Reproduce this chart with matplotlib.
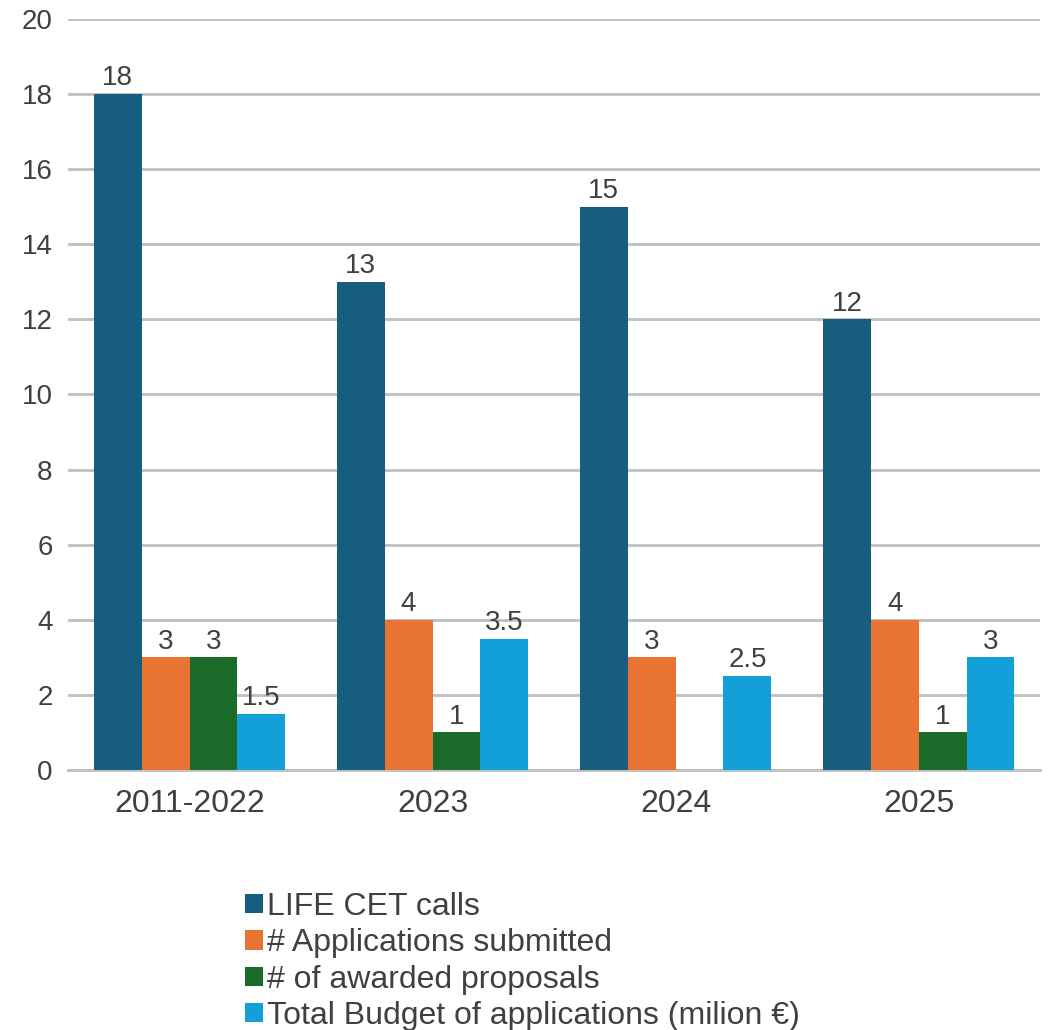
import numpy as np
import matplotlib.pyplot as plt
from matplotlib.patches import Patch

# chart data
groups = ["2011-2022", "2023", "2024", "2025"]
series_names = ["LIFE CET calls", "# Applications submitted",
                "# of awarded proposals", "Total Budget of applications (milion €)"]
cet_calls = [18, 13, 15, 12]
applications = [3, 4, 3, 4]
awarded = [3, 1, 0, 1]
budget = [1.5, 3.5, 2.5, 3]
colors = ["#175d80", "#e87333", "#1c6a2a", "#139fd8"]

plt.rcParams['font.family'] = ['Liberation Sans', 'DejaVu Sans']
text_col = "#404040"

fig = plt.figure(figsize=(10.56, 10.30), dpi=100)
ax = fig.add_axes([0.0644, 0.2524, 0.9206, 0.7292])

x = np.arange(len(groups))
w = 0.197
all_series = [cet_calls, applications, awarded, budget]
for i, vals in enumerate(all_series):
    pos = x + (i - 1.5) * w
    bars = ax.bar(pos, vals, width=w, color=colors[i], zorder=3)
    for b, v in zip(bars, vals):
        if v == 0:
            continue  # no label for the empty bar
        ax.annotate("%g" % v, (b.get_x() + b.get_width() / 2, v), xytext=(0, 2),
                    textcoords="offset points", ha="center", va="bottom",
                    fontsize=20, color=text_col)

ax.set_xlim(-0.5, 3.5)
ax.set_ylim(0, 20)
ax.set_yticks(range(0, 21, 2))
ax.set_xticks(x)
ax.set_xticklabels(groups)
ax.tick_params(axis="both", length=0, labelcolor=text_col)
ax.tick_params(axis="x", pad=14, labelsize=23)
ax.tick_params(axis="y", pad=11, labelsize=20)
ax.grid(axis="y", color="#bfbfbf", linewidth=2, zorder=0)
for s in ["left", "right", "top"]:
    ax.spines[s].set_visible(False)
ax.spines["bottom"].set_color("#bfbfbf")
ax.spines["bottom"].set_linewidth(2)

handles = [Patch(facecolor=c) for c in colors]
fig.legend(handles, series_names, loc="upper left", bbox_to_anchor=(0.232, 0.134),
           frameon=False, fontsize=23, labelcolor=text_col, handlelength=0.55,
           handleheight=0.55, handletextpad=0.15, labelspacing=0.2,
           borderpad=0, borderaxespad=0)

plt.savefig("out.png", dpi=100)
